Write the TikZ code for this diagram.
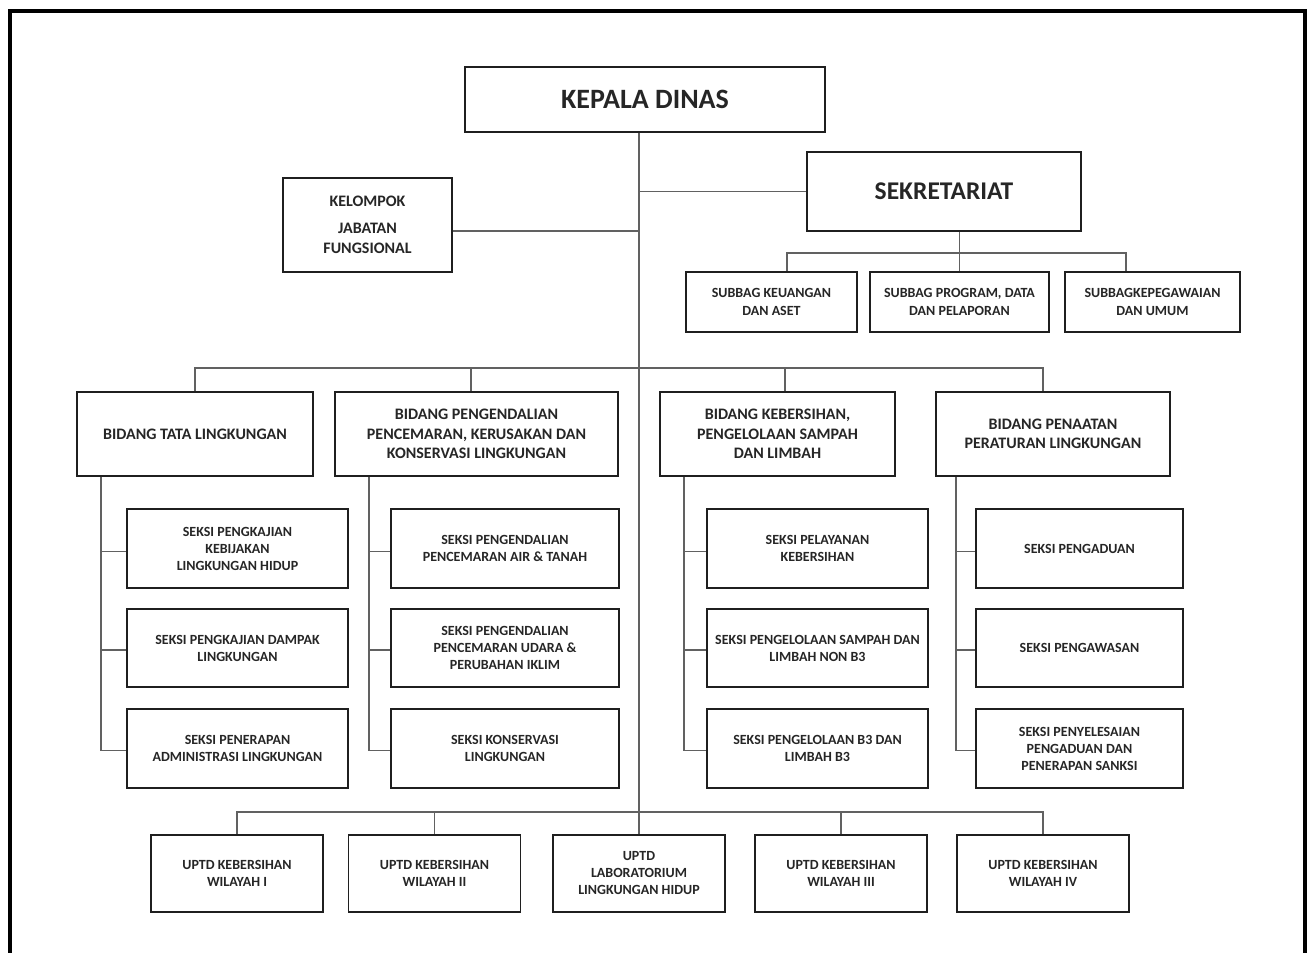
\documentclass[tikz,border=0pt]{standalone}
\usepackage{fontspec}
\setmainfont{Carlito}
\begin{document}
\begin{tikzpicture}[x=1pt,y=-1pt,
  box/.style={draw=black!88, line width=1.8pt, fill=white, inner sep=2pt, align=center,
    text=black!85, font=\bfseries\fontsize{14}{17}\selectfont},
  bid/.style={box, minimum height=84pt, font=\bfseries\fontsize{16}{19.5}\selectfont},
  sek/.style={box, minimum height=79pt},
  upt/.style={box, minimum width=172pt, minimum height=77pt},
  sub/.style={box, minimum height=60pt, font=\bfseries\fontsize{14}{17.5}\selectfont},
  conn/.style={draw=black!62, line width=1.3pt},
  frame/.style={draw=black, line width=3.5pt}]
\clip (0,0) rectangle (1312,953);
\draw[frame] (10,11) rectangle (1305,990);

% top level
\node[box, minimum width=360pt, minimum height=65pt, font=\bfseries\fontsize{28}{32}\selectfont] (kd) at (645,99.5) {KEPALA DINAS};
\node[box, minimum width=274pt, minimum height=79pt, font=\bfseries\fontsize{25.5}{30}\selectfont] (sk) at (944,191.5) {SEKRETARIAT};
\node[box, minimum width=169pt, minimum height=94pt, font=\bfseries\fontsize{16}{20}\selectfont] (kjf) at (367.5,225) {KELOMPOK\\[7pt]JABATAN\\FUNGSIONAL};

% subbag
\node[sub, minimum width=171pt] (sb1) at (771.5,302) {SUBBAG KEUANGAN\\DAN ASET};
\node[sub, minimum width=179pt] (sb2) at (959.5,302) {SUBBAG PROGRAM, DATA\\DAN PELAPORAN};
\node[sub, minimum width=175pt] (sb3) at (1152.5,302) {SUBBAGKEPEGAWAIAN\\DAN UMUM};

% bidang
\node[bid, minimum width=236pt] (b1) at (195,434) {BIDANG TATA LINGKUNGAN};
\node[bid, minimum width=283pt] (b2) at (476.5,434) {BIDANG PENGENDALIAN\\PENCEMARAN, KERUSAKAN DAN\\KONSERVASI LINGKUNGAN};
\node[bid, minimum width=235pt] (b3) at (777.5,434) {BIDANG KEBERSIHAN,\\PENGELOLAAN SAMPAH\\DAN LIMBAH};
\node[bid, minimum width=234pt] (b4) at (1053,434) {BIDANG PENAATAN\\PERATURAN LINGKUNGAN};

% seksi column 1
\node[sek, minimum width=221pt] (s11) at (237.5,548.5) {SEKSI PENGKAJIAN\\KEBIJAKAN\\LINGKUNGAN HIDUP};
\node[sek, minimum width=221pt, minimum height=78pt] (s12) at (237.5,648) {SEKSI PENGKAJIAN DAMPAK\\LINGKUNGAN};
\node[sek, minimum width=221pt] (s13) at (237.5,748.5) {SEKSI PENERAPAN\\ADMINISTRASI LINGKUNGAN};
% seksi column 2
\node[sek, minimum width=228pt] (s21) at (505,548.5) {SEKSI PENGENDALIAN\\PENCEMARAN AIR \& TANAH};
\node[sek, minimum width=228pt, minimum height=78pt] (s22) at (505,648) {SEKSI PENGENDALIAN\\PENCEMARAN UDARA \&\\PERUBAHAN IKLIM};
\node[sek, minimum width=228pt] (s23) at (505,748.5) {SEKSI KONSERVASI\\LINGKUNGAN};
% seksi column 3
\node[sek, minimum width=221pt] (s31) at (817.5,548.5) {SEKSI PELAYANAN\\KEBERSIHAN};
\node[sek, minimum width=221pt, minimum height=78pt] (s32) at (817.5,648) {SEKSI PENGELOLAAN SAMPAH DAN\\LIMBAH NON B3};
\node[sek, minimum width=221pt] (s33) at (817.5,748.5) {SEKSI PENGELOLAAN B3 DAN\\LIMBAH B3};
% seksi column 4
\node[sek, minimum width=207pt] (s41) at (1079.5,548.5) {SEKSI PENGADUAN};
\node[sek, minimum width=207pt, minimum height=78pt] (s42) at (1079.5,648) {SEKSI PENGAWASAN};
\node[sek, minimum width=207pt] (s43) at (1079.5,748.5) {SEKSI PENYELESAIAN\\PENGADUAN DAN\\PENERAPAN SANKSI};

% UPTD
\node[upt] (u1) at (237,873.5) {UPTD KEBERSIHAN\\WILAYAH I};
\node[upt] (u2) at (434.5,873.5) {UPTD KEBERSIHAN\\WILAYAH II};
\node[upt] (u3) at (639,873.5) {UPTD\\LABORATORIUM\\LINGKUNGAN HIDUP};
\node[upt] (u4) at (841,873.5) {UPTD KEBERSIHAN\\WILAYAH III};
\node[upt] (u5) at (1043,873.5) {UPTD KEBERSIHAN\\WILAYAH IV};

% spine
\draw[conn] (kd.south -| u3.north) -- (u3.north);
\draw[conn] (sk.west -| u3.north) -- (sk.west);
\draw[conn] ([yshift=-6pt]kjf.east) -- ([yshift=-6pt]kjf.east -| u3.north);

% sekretariat subtree
\draw[conn] (sk.south -| sb2.north) -- (sb2.north);
\draw[conn] ([xshift=15.5pt]sb1.north) -- ++(0,-18) -| ([xshift=-26.5pt]sb3.north);

% bidang bar
\draw[conn] (b1.north) -- ++(0,-23) -| ([xshift=-10pt]b4.north);
\draw[conn] ([xshift=-5.5pt]b2.north) -- ++(0,-23);
\draw[conn] ([xshift=7.5pt]b3.north) -- ++(0,-23);

% seksi connectors
\coordinate (v1) at ([xshift=25pt]b1.south west);
\coordinate (v2) at ([xshift=35pt]b2.south west);
\coordinate (v3) at ([xshift=25pt]b3.south west);
\coordinate (v4) at ([xshift=21pt]b4.south west);
\foreach \v/\c in {v1/1,v2/2,v3/3,v4/4}{
  \draw[conn] (\v) |- ([yshift=-2pt]s\c3.west);
  \draw[conn] (\v |- s\c1.west) ++(0,3) -- ([yshift=-3pt]s\c1.west);
  \draw[conn] (\v |- s\c2.west) ++(0,2) -- ([yshift=-2pt]s\c2.west);
}

% UPTD bar
\draw[conn] (u1.north) -- ++(0,-22) -| (u5.north);
\draw[conn] (u2.north) -- ++(0,-22);
\draw[conn] (u4.north) -- ++(0,-22);
\end{tikzpicture}
\end{document}
